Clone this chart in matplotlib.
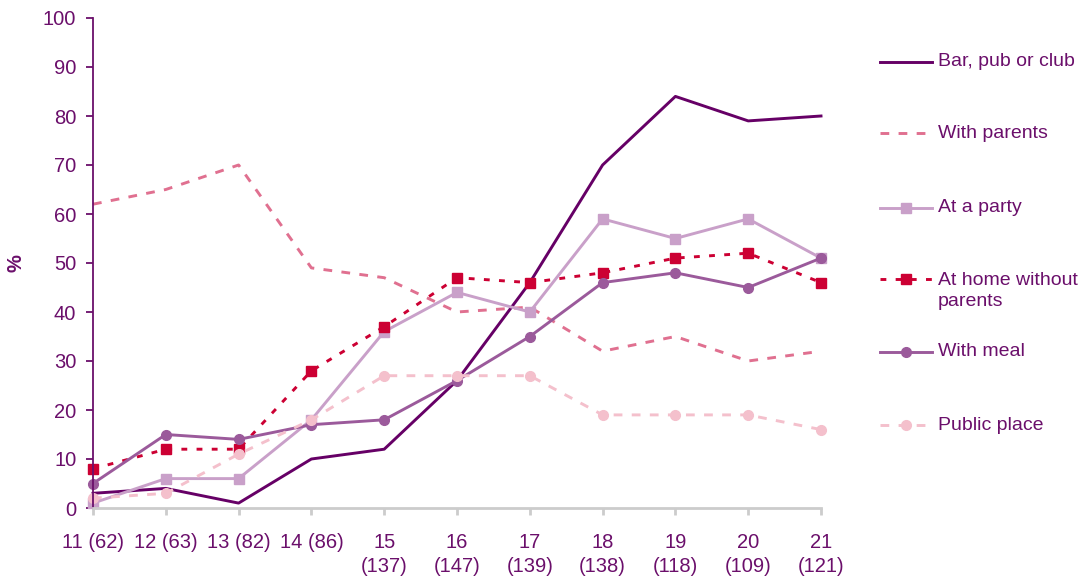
import numpy as np
import matplotlib.pyplot as plt
from matplotlib.lines import Line2D

plt.rcParams['font.family'] = ['Liberation Sans', 'DejaVu Sans']

ages = ['11 (62)', '12 (63)', '13 (82)', '14 (86)', '15\n(137)', '16\n(147)',
        '17\n(139)', '18\n(138)', '19\n(118)', '20\n(109)', '21\n(121)']

bar_pub = [3, 4, 1, 10, 12, 26, 46, 70, 84, 79, 80]
with_parents = [62, 65, 70, 49, 47, 40, 41, 32, 35, 30, 32]
at_party = [1, 6, 6, 18, 36, 44, 40, 59, 55, 59, 51]
home_no_parents = [8, 12, 12, 28, 37, 47, 46, 48, 51, 52, 46]
with_meal = [5, 15, 14, 17, 18, 26, 35, 46, 48, 45, 51]
public_place = [2, 3, 11, 18, 27, 27, 27, 19, 19, 19, 16]

text_col = '#6B0F6B'
W, H = 1084, 576

fig = plt.figure(figsize=(W / 100, H / 100), dpi=100)
ax = fig.add_axes([93 / W, 1 - 508 / H, (821 - 93) / W, (508 - 18) / H])

x = np.arange(len(ages))

series = [
    (bar_pub, 'Bar, pub or club', dict(color='#660066', ls='-', marker='')),
    (with_parents, 'With parents', dict(color='#E07090', ls=(0, (3, 3.2)), marker='')),
    (at_party, 'At a party', dict(color='#C9A0C9', ls='-', marker='s')),
    (home_no_parents, 'At home without\nparents', dict(color='#CC0033', ls=(0, (2, 3.2)), marker='s')),
    (with_meal, 'With meal', dict(color='#9B5A9B', ls='-', marker='o')),
    (public_place, 'Public place', dict(color='#F4C0CC', ls=(0, (3, 3.2)), marker='o')),
]

for vals, name, st in series:
    ax.plot(x, vals, lw=2.1, ms=7, clip_on=False, **st)

ax.set_xlim(0, 10)
ax.set_ylim(0, 100)
ax.set_yticks(range(0, 101, 10))
ax.set_xticks(x)
ax.set_xticklabels(ages, fontsize=14.5, color=text_col, linespacing=1.3)
ax.tick_params(axis='y', labelsize=14.5, labelcolor=text_col, color=text_col,
               length=5, width=1.3, pad=7)
ax.tick_params(axis='x', color='#CCCCCC', length=5, width=2, pad=13)

for s in ['top', 'right']:
    ax.spines[s].set_visible(False)
ax.spines['left'].set_color(text_col)
ax.spines['left'].set_linewidth(1.3)
ax.spines['bottom'].set_color('#CCCCCC')
ax.spines['bottom'].set_linewidth(2)

ax.set_ylabel('%', fontsize=14.5, color=text_col, fontweight='bold')
ax.yaxis.set_label_coords((26 - 93) / 728, 0.5)

# legend drawn by hand so two-line label lines up like the original
leg_y = [62, 133, 208, 279, 352, 425]
for (vals, name, st), yy in zip(series, leg_y):
    fy = 1 - yy / H
    fig.add_artist(Line2D([880 / W, 932 / W], [fy, fy], lw=2.1, color=st['color'],
                          ls=st['ls'], transform=fig.transFigure))
    if st['marker']:
        fig.add_artist(Line2D([906 / W], [fy], marker=st['marker'], ms=7,
                              color=st['color'], transform=fig.transFigure))
    ty = 1 - (yy + 12) / H if '\n' in name else fy
    fig.text(938 / W, ty, name, fontsize=14, color=text_col, va='center',
             linespacing=1.25)

fig.savefig('out.png', dpi=100)
